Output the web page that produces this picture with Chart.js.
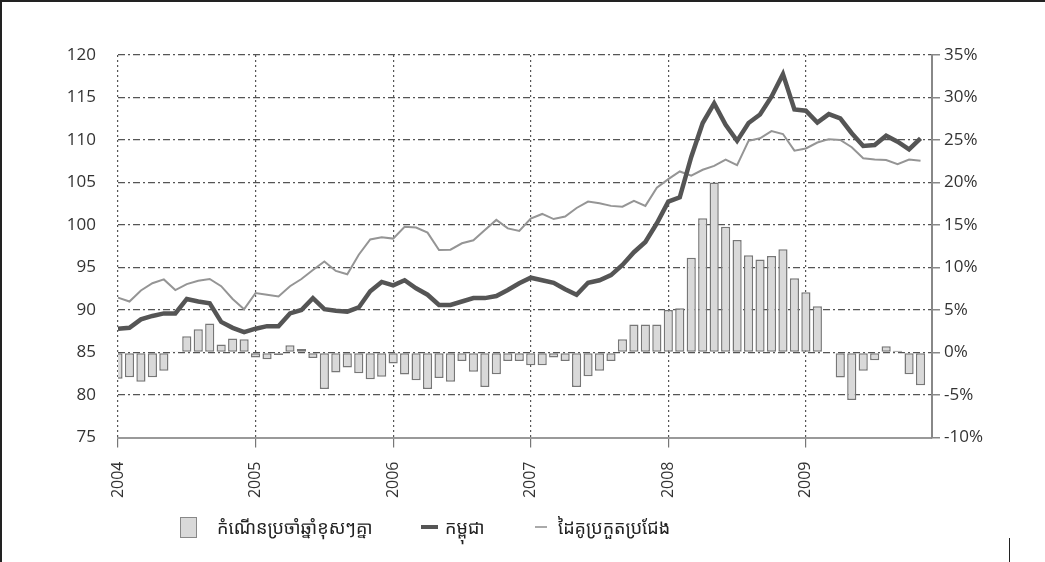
<!DOCTYPE html>
<html>
<head>
<meta charset="utf-8">
<script src="https://cdn.jsdelivr.net/npm/chart.js@4.4.1/dist/chart.umd.min.js"></script>
<style>
html, body { margin: 0; padding: 0; background: #fff; }
#wrap { position: relative; width: 1045px; height: 562px; }
.edge { position: absolute; background: #222; }
.item { position: absolute; top: 515px; height: 24px; display: flex; align-items: center;
        font-family: 'Noto Sans Khmer', 'Khmer OS', 'Noto Sans', sans-serif; font-size: 18px; color: #222; white-space: nowrap; }
.sw { flex: none; box-sizing: border-box; }
</style>
</head>
<body>
<div id="wrap">
  <canvas id="chart" width="1045" height="562"></canvas>
  <div id="legend"></div>
  <div class="edge" style="left:0;top:0;width:1045px;height:2px"></div>
  <div class="edge" style="left:0;top:0;width:2px;height:562px"></div>
  <div class="edge" style="left:1009px;top:538px;width:1px;height:24px"></div>
</div>
<script>
var years = ['2004', '2005', '2006', '2007', '2008', '2009'];
var monthNames = ['01', '02', '03', '04', '05', '06', '07', '08', '09', '10', '11', '12'];

// annual growth, % (right axis)
var growth = [
  -3.1, -2.9, -3.45, -2.9, -2.15, 0.05, 1.9, 2.75, 3.4, 0.95, 1.65, 1.55,
  -0.6, -0.8, -0.3, 0.85, 0.4, -0.65, -4.3, -2.35, -1.75, -2.45, -3.15, -2.85,
  -1.3, -2.6, -3.25, -4.3, -3.0, -3.45, -1.0, -2.25, -4.05, -2.55, -1.0, -1.0,
  -1.5, -1.5, -0.6, -1.0, -4.05, -2.8, -2.15, -1.0, 1.55, 3.3, 3.3, 3.3,
  5.0, 5.2, 11.15, 15.8, 20.0, 14.8, 13.25, 11.45, 10.95, 11.35, 12.15, 8.75,
  7.1, 5.45, 0.1, -2.95, -5.6, -2.15, -0.9, 0.75, 0.2, -2.55, -3.85
];

// Cambodia index (left axis)
var cambodia = [
  87.8, 87.9, 88.9, 89.3, 89.6, 89.6, 91.3, 91.0, 90.8, 88.6, 87.9, 87.4,
  87.8, 88.1, 88.1, 89.6, 90.0, 91.4, 90.1, 89.9, 89.8, 90.3, 92.2, 93.3,
  92.9, 93.5, 92.55, 91.8, 90.6, 90.6, 91.0, 91.4, 91.4, 91.65, 92.35, 93.15,
  93.8, 93.5, 93.2, 92.45, 91.8, 93.2, 93.5, 94.1, 95.3, 96.8, 98.0, 100.2,
  102.75, 103.25, 108.0, 112.0, 114.3, 111.8, 109.9, 112.0, 113.0, 115.1, 117.75, 113.6,
  113.45, 112.05, 113.05, 112.55, 110.8, 109.3, 109.4, 110.5, 109.8, 108.9, 110.2
];

// trading partners / competitors index (left axis)
var partners = [
  91.45, 91.0, 92.3, 93.15, 93.6, 92.35, 93.05, 93.45, 93.65, 92.8, 91.3, 90.1,
  92.0, 91.8, 91.6, 92.8, 93.65, 94.7, 95.7, 94.6, 94.2, 96.5, 98.3, 98.55,
  98.4, 99.8, 99.7, 99.1, 97.05, 97.1, 97.85, 98.2, 99.4, 100.6, 99.6, 99.3,
  100.75, 101.3, 100.7, 101.0, 102.0, 102.75, 102.55, 102.25, 102.15, 102.85, 102.25, 104.4,
  105.4, 106.3, 105.8, 106.5, 106.95, 107.7, 107.05, 109.9, 110.2, 111.05, 110.7, 108.75,
  109.0, 109.7, 110.1, 110.0, 109.15, 107.85, 107.7, 107.65, 107.15, 107.7, 107.55
];

var labels = [];
years.forEach(function (y) {
  monthNames.forEach(function (m) { labels.push(y + '-' + m); });
});

var tickFont = { family: "'Open Sans', 'Noto Sans', sans-serif", size: 17 };

var chart = new Chart('chart', {
  type: 'bar',
  data: {
    labels: labels,
    datasets: [{
      type: 'bar',
      label: 'កំណើនប្រចាំឆ្នាំខុសៗគ្នា',
      data: growth,
      yAxisID: 'y1',
      backgroundColor: '#d9d9d9',
      borderColor: '#777',
      borderWidth: 1.5,
      borderSkipped: false,
      barPercentage: 0.8,
      categoryPercentage: 1,
      order: 2
    }, {
      type: 'line',
      label: 'កម្ពុជា',
      data: cambodia,
      yAxisID: 'y',
      borderColor: '#555555',
      borderWidth: 4.5,
      pointRadius: 0,
      tension: 0,
      order: 0
    }, {
      type: 'line',
      label: 'ដៃគូប្រកួតប្រជែង',
      data: partners,
      yAxisID: 'y',
      borderColor: '#959595',
      borderWidth: 2,
      pointRadius: 0,
      tension: 0,
      order: 1
    }]
  },
  options: {
    responsive: false,
    animation: false,
    layout: { padding: { top: 55, left: 0, right: 0, bottom: 57 } },
    plugins: {
      tooltip: { enabled: false },
      legend: { display: false }
    },
    scales: {
      x: {
        type: 'category',
        offset: false,
        grid: {
          offset: false,
          color: '#555',
          lineWidth: 1.2,
          tickLength: 10,
          tickColor: '#777'
        },
        border: { display: true, color: '#999', width: 2, dash: [2, 3] },
        ticks: {
          autoSkip: false,
          maxRotation: 90,
          minRotation: 90,
          padding: 14,
          color: '#333',
          font: { family: "'Open Sans', 'Noto Sans', sans-serif", size: 16 },
          callback: function (v, i) { return i % 12 === 0 ? years[i / 12] : null; }
        },
        afterFit: function (scale) { scale.height = 67.5; }
      },
      y: {
        position: 'left',
        min: 75,
        max: 120,
        grid: { color: '#555', lineWidth: 1.2, drawTicks: false },
        border: { display: false, dash: [7, 3, 2, 3] },
        ticks: { stepSize: 5, padding: 22, color: '#333', font: tickFont },
        afterFit: function (scale) { scale.width = 118; }
      },
      y1: {
        position: 'right',
        min: -10,
        max: 35,
        grid: { drawOnChartArea: false, tickLength: 8, tickColor: '#888', lineWidth: 1.5 },
        border: { display: true, color: '#888', width: 2 },
        ticks: {
          stepSize: 5,
          padding: 4,
          color: '#333',
          font: tickFont,
          callback: function (v) { return v + '%'; }
        },
        afterFit: function (scale) { scale.width = 113; }
      }
    }
  }
});

// html legend built from the datasets
var legendLeft = [180, 421, 535];
var swatchStyle = [
  'width:17px;height:21px;margin-right:20px;border:1.5px solid #888;background:#d9d9d9',
  'width:17px;height:4px;margin-right:7px;background:#555',
  'width:12px;height:2px;margin-right:11px;background:#aaa'
];
var legend = document.getElementById('legend');
chart.data.datasets.forEach(function (ds, i) {
  var item = document.createElement('div');
  item.className = 'item';
  item.style.left = legendLeft[i] + 'px';
  var sw = document.createElement('span');
  sw.className = 'sw';
  sw.style.cssText = swatchStyle[i];
  var txt = document.createElement('span');
  txt.textContent = ds.label;
  item.appendChild(sw);
  item.appendChild(txt);
  legend.appendChild(item);
});
</script>
</body>
</html>
